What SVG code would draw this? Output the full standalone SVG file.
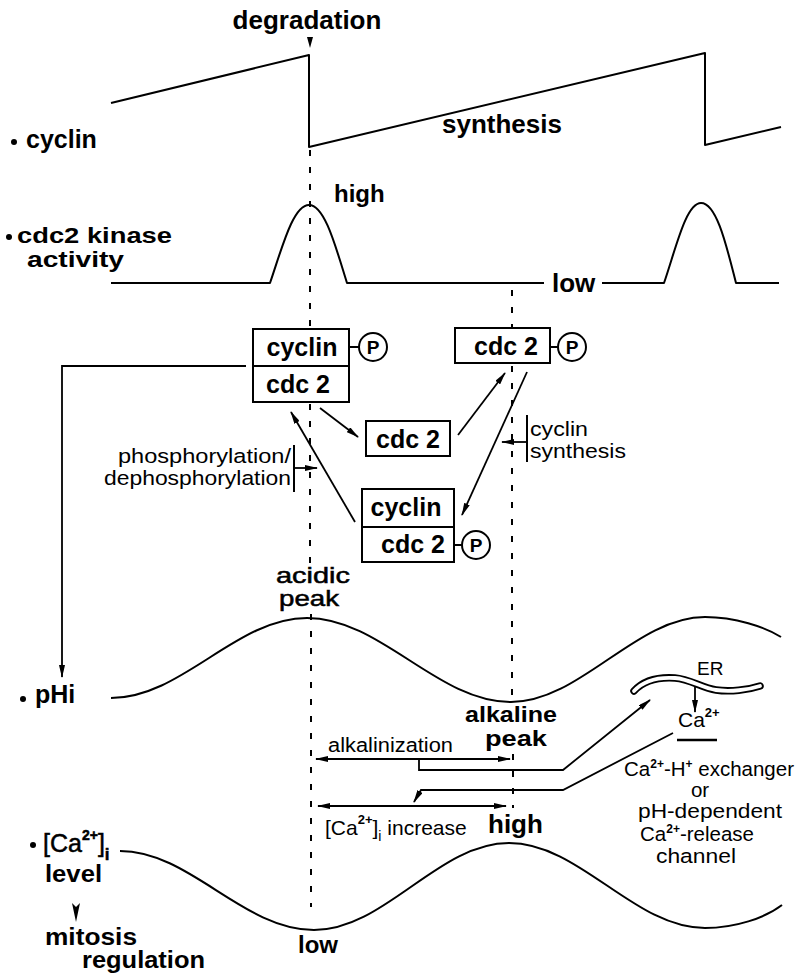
<svg xmlns="http://www.w3.org/2000/svg" width="801" height="975" viewBox="0 0 801 975">
<defs>
<marker id="ah" viewBox="0 0 13 6" refX="12" refY="3" markerWidth="13" markerHeight="6" markerUnits="userSpaceOnUse" orient="auto-start-reverse"><path d="M0,0 L13,3 L0,6 Z" fill="#000"/></marker>
<style>
.l{fill:none;stroke:#000;stroke-width:2;stroke-linejoin:round}
.d{fill:none;stroke:#000;stroke-width:2;stroke-dasharray:6 11}
.b{fill:#fff;stroke:#000;stroke-width:2}
.c{fill:none;stroke:#000;stroke-width:1.8;marker-end:url(#ah)}
.cc{fill:none;stroke:#000;stroke-width:1.8;marker-end:url(#ah);marker-start:url(#ah)}
.t{font-family:"Liberation Sans",Arial,sans-serif;fill:#000}
.bd{font-weight:bold}
.m{text-anchor:middle}
.e{text-anchor:end}
.s{stroke:#000;stroke-width:0.5}
</style>
</defs>
<rect width="801" height="975" fill="#fff"/>

<g id="connectors">
  <path class="d" d="M310,150 V328 M310,404 V565 M311,614 V907"/>
  <path class="d" d="M512,290 V328 M512,366 V700 M513,754 V808"/>
  <polygon points="307,37 313,37 310,48" fill="#000"/>
  <line class="c" x1="320" y1="408" x2="358" y2="437"/>
  <line class="c" x1="458" y1="435" x2="505" y2="373"/>
  <line class="c" x1="527" y1="372" x2="462" y2="515"/>
  <line class="c" x1="355" y1="522" x2="291" y2="412"/>
  <polyline class="c" points="246,366 62,366 62,677"/>
  <line class="l" x1="294" y1="445" x2="294" y2="492"/>
  <line class="c" x1="294" y1="468" x2="317" y2="468"/>
  <line class="l" x1="527" y1="415" x2="527" y2="462"/>
  <line class="c" x1="527" y1="442" x2="502" y2="442"/>
  <line class="cc" x1="316" y1="759" x2="510" y2="759"/>
  <polyline class="c" points="419,759 419,770 563,770 650,700"/>
  <polyline class="c" points="673,733 563,790 421,790 414,802"/>
  <line class="cc" x1="318" y1="806" x2="506" y2="806"/>
  <line class="c" x1="695" y1="685" x2="695" y2="712"/>
  <line x1="677" y1="740" x2="717" y2="740" stroke="#000" stroke-width="2.5"/>
  <polygon points="72,903 76,907 80,903 76,922" fill="#000"/>
</g>

<g id="curves">
  <polyline id="cyclin-curve" class="l" points="111,103 309,55 309,147 705,53 705,145 781,127"/>
  <path id="cdc2-curve" class="l" d="M111,283 L270,283 C282,248 293,205 309,205 C325,205 336,248 347,283 L544,283 M602,283 L664,283 C676,248 686,203 701,203 C717,203 727,248 736,283 L779,283"/>
  <path id="phi-curve" class="l" d="M111,698 C182,698 236,618 307,618 C381,618 437,702 511,702 C580,702 636,617 705,617 C735,617 765,627 781,637"/>
  <path id="ca-curve" class="l" d="M120,851 C190,851 243,930 314,930 C385,930 438,843 509,843 C580,843 634,928 705,928 C735,928 765,918 782,905"/>
  <g id="er">
    <path d="M634,691 C644,680 660,677 675,678 C690,679 702,688 716,690 C730,692 748,690 760,686" fill="none" stroke="#000" stroke-width="7.5" stroke-linecap="round"/>
    <path d="M634,691 C644,680 660,677 675,678 C690,679 702,688 716,690 C730,692 748,690 760,686" fill="none" stroke="#fff" stroke-width="3.8" stroke-linecap="round"/>
  </g>
</g>

<g id="box1">
  <rect class="b" x="253" y="329" width="96" height="73"/>
  <line class="l" x1="253" y1="366" x2="349" y2="366"/>
  <text class="t bd m" x="302" y="356" font-size="25">cyclin</text>
  <text class="t bd m" x="298" y="393" font-size="25">cdc 2</text>
  <line class="l" x1="349" y1="347" x2="359" y2="347"/>
  <circle class="b" cx="373" cy="347" r="14"/>
  <text class="t bd m" x="373" y="354" font-size="19">P</text>
</g>
<g id="box2">
  <rect class="b" x="366" y="421" width="84" height="35"/>
  <text class="t bd m" x="408" y="448" font-size="25">cdc 2</text>
</g>
<g id="box3">
  <rect class="b" x="455" y="328" width="95" height="35"/>
  <text class="t bd m" x="506" y="355" font-size="25">cdc 2</text>
  <line class="l" x1="550" y1="347" x2="558" y2="347"/>
  <circle class="b" cx="572" cy="347" r="14"/>
  <text class="t bd m" x="572" y="354" font-size="19">P</text>
</g>
<g id="box4">
  <rect class="b" x="362" y="489" width="92" height="73"/>
  <line class="l" x1="362" y1="527" x2="454" y2="527"/>
  <text class="t bd m" x="406" y="516" font-size="25">cyclin</text>
  <text class="t bd m" x="413" y="553" font-size="25">cdc 2</text>
  <line class="l" x1="454" y1="545" x2="462" y2="545"/>
  <circle class="b" cx="476" cy="545" r="14"/>
  <text class="t bd m" x="476" y="552" font-size="19">P</text>
</g>

<g id="labels">
  <text class="t bd m" x="307" y="29" font-size="26">degradation</text>
  <text class="t bd" x="442" y="133" font-size="26">synthesis</text>
  <circle cx="14" cy="142" r="3"/>
  <text class="t bd" x="26" y="148" font-size="25">cyclin</text>
  <text class="t bd" x="334" y="202" font-size="24">high</text>
  <circle cx="9" cy="237" r="3"/>
  <text class="t bd" x="17" y="243" font-size="22" textLength="155" lengthAdjust="spacingAndGlyphs">cdc2 kinase</text>
  <text class="t bd" x="27" y="267" font-size="22" textLength="97" lengthAdjust="spacingAndGlyphs">activity</text>
  <text class="t bd" x="552" y="292" font-size="26">low</text>
  <text class="t e" x="291" y="463" font-size="20.5" textLength="173" lengthAdjust="spacingAndGlyphs">phosphorylation/</text>
  <text class="t e" x="291" y="485" font-size="20.5" textLength="187" lengthAdjust="spacingAndGlyphs">dephosphorylation</text>
  <text class="t" x="530" y="436" font-size="20.5" textLength="58" lengthAdjust="spacingAndGlyphs">cyclin</text>
  <text class="t" x="530" y="458" font-size="20.5" textLength="96" lengthAdjust="spacingAndGlyphs">synthesis</text>
  <text class="t s m" x="313" y="583" font-size="22" textLength="74" lengthAdjust="spacingAndGlyphs">acidic</text>
  <text class="t s m" x="309" y="606" font-size="22" textLength="60" lengthAdjust="spacingAndGlyphs">peak</text>
  <circle cx="23" cy="699" r="3"/>
  <text class="t bd" x="35" y="703" font-size="25">pHi</text>
  <text class="t bd m" x="511" y="722" font-size="22" textLength="92" lengthAdjust="spacingAndGlyphs">alkaline</text>
  <text class="t bd m" x="516" y="746" font-size="22" textLength="62" lengthAdjust="spacingAndGlyphs">peak</text>
  <text class="t" x="328" y="752" font-size="20" textLength="125" lengthAdjust="spacingAndGlyphs">alkalinization</text>
  <text class="t" x="325" y="835" font-size="21">[Ca<tspan font-size="13" font-weight="bold" dy="-11">2+</tspan><tspan dy="11">]</tspan><tspan font-size="14" dy="6">i</tspan><tspan dy="-6"> increase</tspan></text>
  <text class="t bd" x="488" y="833" font-size="26">high</text>
  <text class="t" x="697" y="675" font-size="19">ER</text>
  <text class="t" x="678" y="727" font-size="21">Ca<tspan font-size="13" font-weight="bold" dy="-10">2+</tspan></text>
  <text class="t m" x="709" y="776" font-size="20.5">Ca<tspan font-size="12" font-weight="bold" dy="-8">2+</tspan><tspan dy="8">-H</tspan><tspan font-size="12" font-weight="bold" dy="-8">+</tspan><tspan dy="8"> exchanger</tspan></text>
  <text class="t m" x="700" y="797" font-size="20.5">or</text>
  <text class="t m" x="710" y="818" font-size="20.5" textLength="144" lengthAdjust="spacingAndGlyphs">pH-dependent</text>
  <text class="t m" x="697" y="841" font-size="20.5">Ca<tspan font-size="12" font-weight="bold" dy="-8">2+</tspan><tspan dy="8">-release</tspan></text>
  <text class="t m" x="696" y="863" font-size="20.5" textLength="80" lengthAdjust="spacingAndGlyphs">channel</text>
  <circle cx="33" cy="845" r="3"/>
  <text class="t s" x="43" y="852" font-size="25">[Ca<tspan font-size="14" font-weight="bold" dy="-12">2+</tspan><tspan dy="12">]</tspan><tspan font-size="17" font-weight="bold" dy="8">i</tspan></text>
  <text class="t bd" x="45" y="882" font-size="23" textLength="57" lengthAdjust="spacingAndGlyphs">level</text>
  <text class="t bd" x="45" y="945" font-size="23" textLength="92" lengthAdjust="spacingAndGlyphs">mitosis</text>
  <text class="t bd" x="82" y="968" font-size="23" textLength="123" lengthAdjust="spacingAndGlyphs">regulation</text>
  <text class="t bd" x="298" y="953" font-size="24">low</text>
</g>
</svg>
